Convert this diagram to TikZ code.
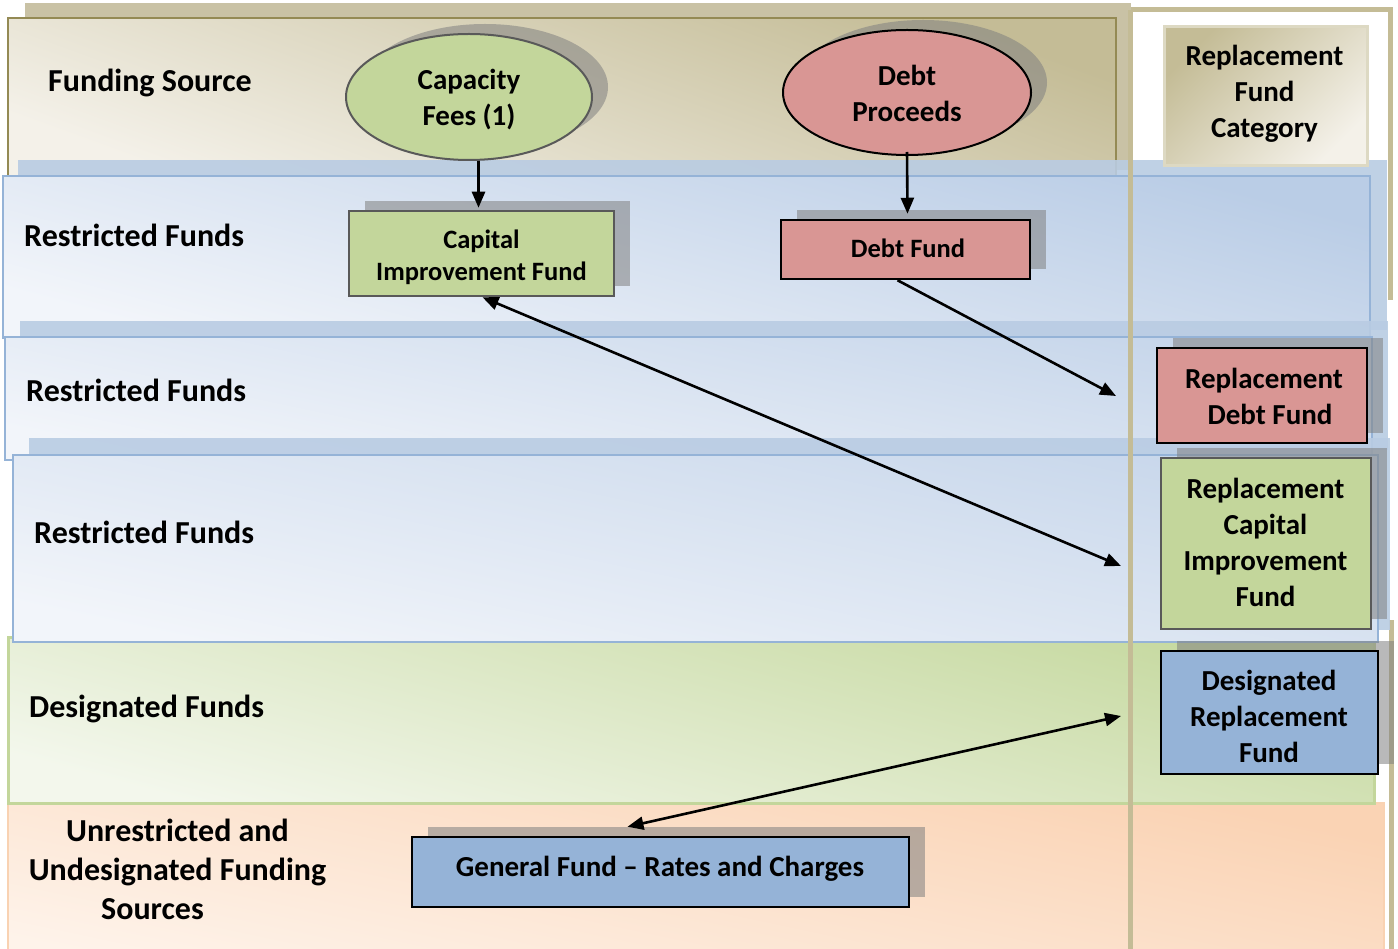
\documentclass[tikz,border=0pt]{standalone}
\usepackage{fontspec}
\setmainfont{Carlito}
\usetikzlibrary{arrows.meta,shapes.geometric,shadows}

\definecolor{tanD}{HTML}{C4BC96}
\definecolor{tanL}{HTML}{F4F1E9}
\definecolor{tanS}{HTML}{C9C2A5}
\definecolor{tanB}{HTML}{948A54}
\definecolor{colB}{HTML}{C4BC96}
\definecolor{bluD}{HTML}{BACDE6}
\definecolor{bluL}{HTML}{F2F5FA}
\definecolor{bluB}{HTML}{95B3D7}
\definecolor{bluS}{HTML}{B9CCE3}
\definecolor{grnD}{HTML}{C6D9A0}
\definecolor{grnL}{HTML}{F3F7EC}
\definecolor{grnB}{HTML}{C3D69B}
\definecolor{pchD}{HTML}{FAD3B4}
\definecolor{pchL}{HTML}{FEF3EA}
\definecolor{pchB}{HTML}{F9D2B2}
\definecolor{gfill}{HTML}{C3D69B}
\definecolor{rfill}{HTML}{D99694}
\definecolor{bfill}{HTML}{95B3D7}
\definecolor{dgray}{HTML}{595959}
\definecolor{rfcB}{HTML}{DDD9C3}

\tikzset{
  lbl/.style={inner sep=0pt, font=\fontsize{32}{39}\selectfont\bfseries},
  sh/.style={drop shadow={shadow xshift=16pt, shadow yshift=10pt, fill=gray, opacity=0.55}},
  fbox/.style={draw, line width=2.5pt, inner sep=0pt, align=center, sh},
  oval/.style={ellipse, draw, line width=2pt, inner sep=0pt, align=center, sh},
  bigtxt/.style={inner sep=0pt, align=center, font=\fontsize{29}{36}\selectfont\bfseries},
  smalltxt/.style={inner sep=0pt, align=center, font=\fontsize{26.5}{32}\selectfont\bfseries},
  arr/.style={line width=2.6pt, -{Triangle[length=16pt,width=13pt]}},
  arrtwo/.style={line width=2.6pt, {Triangle[length=16pt,width=13pt]}-{Triangle[length=16pt,width=13pt]}},
}

\begin{document}
\begin{tikzpicture}[x=1pt,y=-1pt]
\useasboundingbox[fill=white] (0,0) rectangle (1398,949);

% replacement column (outline, below bands)
\draw[line width=5pt, draw=colB] (1390,300) -- (1390,10) -- (1130,10);
\draw[line width=5pt, draw=colB] (1391,620) -- (1391,975);

% peach band
\shade[top color=pchD, bottom color=pchL, shading angle=-12] (8,803) rectangle (1384,975);
\draw[pchB, line width=2pt] (8,975) -- (8,803) -- (1384,803) -- (1384,975);
% green band
\shade[top color=grnD, bottom color=grnL, shading angle=-15] (8,637) rectangle (1374,803);
\draw[grnB, line width=3pt] (8,637) rectangle (1374,803);

% tan band
\fill[tanS] (25,3) rectangle (1131,170);
\shade[top color=tanD, bottom color=tanL, shading angle=-20] (8,18) rectangle (1116,176);
\draw[tanB, line width=2.5pt] (8,18) rectangle (1116,176);

% blue band 1
\fill[bluS, opacity=0.9] (18,160) rectangle (1387,330);
\shade[top color=bluD, bottom color=bluL, shading angle=-15] (3,176) rectangle (1370,338);
\draw[bluB, line width=2.5pt] (3,176) rectangle (1370,338);
% blue band 2
\fill[bluS, opacity=0.9] (20,321) rectangle (1388,450);
\shade[top color=bluD!80!bluL, bottom color=bluL, shading angle=-12] (5,337) rectangle (1372,460);
\draw[bluB, line width=2.5pt] (5,337) rectangle (1372,460);
% blue band 3
\fill[bluS, opacity=0.9] (29,438) rectangle (1390,630);
\shade[top color=bluD!75!bluL, bottom color=bluL, shading angle=-12] (13,455) rectangle (1378,642);
\draw[bluB, line width=2.5pt] (13,455) rectangle (1378,642);

% column left border on top
\draw[line width=5pt, draw=colB] (1130,10) -- (1130,975);

% row labels
\node[lbl, anchor=west] (lfs) at (48,83) {Funding Source};
\node[lbl, anchor=west] (lra) at (24,235) {Restricted Funds};
\node[lbl, anchor=west] (lrb) at (26,390) {Restricted Funds};
\node[lbl, anchor=west] (lrc) at (34,532) {Restricted Funds};
\node[lbl, anchor=west] (ldes) at (29,709) {Designated Funds};
\node[lbl, align=center] (lun) at (177.5,869) {Unrestricted and\\Undesignated Funding\\Sources\hspace*{50pt}};

% sources
\node[oval, fill=gfill, draw=dgray, minimum width=246pt, minimum height=126pt] (cap) at (469,97) {};
\node[bigtxt] (capt) at (469,100) {Capacity\\Fees (1)};
\node[oval, fill=rfill, draw=black, minimum width=248pt, minimum height=125pt] (dp) at (907,92.5) {};
\node[bigtxt] (dpt) at (907,93.5) {Debt\\Proceeds};

% funds
\node[fbox, fill=gfill, draw=dgray, minimum width=265pt, minimum height=85pt] (cif) at (481.5,253.5) {};
\node[smalltxt] (cift) at (481.5,257.5) {Capital\\Improvement Fund};
\node[fbox, fill=rfill, draw=black, minimum width=249pt, minimum height=59pt] (df) at (905.5,249.5) {};
\node[smalltxt] (dft) at (908,248.5) {Debt Fund};
\node[fbox, fill=bfill, draw=black, minimum width=497pt, minimum height=70pt] (gf) at (660.5,872) {};
\node[bigtxt] (gft) at (660,868.5) {General Fund -- Rates and Charges};

% replacement category column
\node[draw=rfcB, line width=3pt, top color=tanD, bottom color=tanL, shading angle=45, inner sep=0pt, minimum width=203pt, minimum height=139pt] (rfc) at (1265.5,96.5) {};
\node[bigtxt] (rfct) at (1264.5,94) {Replacement\\Fund\\Category};
\node[fbox, fill=rfill, draw=black, minimum width=210pt, minimum height=95pt] (rdf) at (1262,395.5) {};
\node[bigtxt] (rdft) at (1264,396) {Replacement\\\hspace*{12pt}Debt Fund};
\node[fbox, fill=gfill, draw=dgray, minimum width=210pt, minimum height=171pt] (rcif) at (1266,543.5) {};
\node[bigtxt] (rcift) at (1265.5,542.5) {Replacement\\Capital\\Improvement\\Fund};
\node[fbox, fill=bfill, draw=black, minimum width=217pt, minimum height=123pt] (drf) at (1269.5,712.5) {};
\node[bigtxt] (drft) at (1269,716) {Designated\\Replacement\\Fund};

% free arrow ends
\coordinate (tone) at (1116,396);
\coordinate (ttwo) at (1121,566);
\coordinate (tthree) at (1121,716);

% connectors
\draw[arr] ([xshift=-3pt]cif.north |- cap.south) -- ([xshift=-3pt,yshift=2pt]cif.north);
\draw[arr] ([yshift=4pt]dp.south) -- ([xshift=2pt,yshift=5pt]df.north);
\draw[arr] ([xshift=-8pt]df.south) -- (tone);
\draw[arrtwo] ([xshift=1pt]cif.south) -- (ttwo);
\draw[arrtwo] ([xshift=-33pt,yshift=9pt]gf.north) -- (tthree);
\end{tikzpicture}
\end{document}
